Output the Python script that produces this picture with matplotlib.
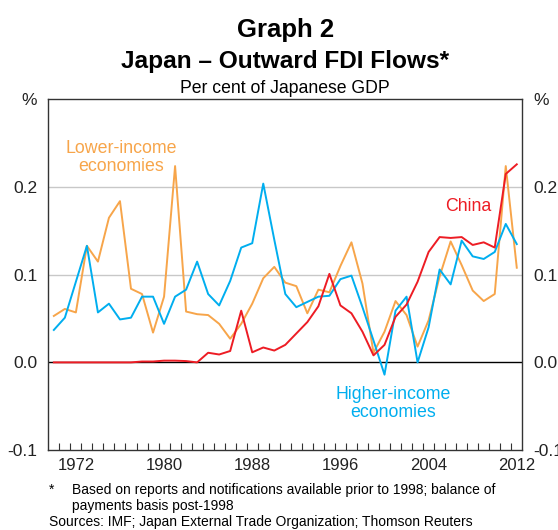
import numpy as np
import matplotlib
matplotlib.use('Agg')
import matplotlib.pyplot as plt
from matplotlib.ticker import FixedLocator

plt.rcParams['font.family'] = ['Liberation Sans', 'DejaVu Sans']

years = np.arange(1970, 2013)

# per cent of Japanese GDP
lower_income = [0.053, 0.061, 0.057, 0.133, 0.115, 0.165, 0.184, 0.084, 0.078, 0.034,
                0.075, 0.224, 0.058, 0.055, 0.054, 0.044, 0.027, 0.044, 0.067, 0.096,
                0.109, 0.091, 0.087, 0.056, 0.083, 0.080, 0.110, 0.137, 0.090, 0.011,
                0.035, 0.070, 0.054, 0.018, 0.048, 0.098, 0.138, 0.111, 0.082, 0.070,
                0.078, 0.224, 0.108]
higher_income = [0.037, 0.051, 0.092, 0.133, 0.057, 0.067, 0.049, 0.051, 0.075, 0.075,
                 0.044, 0.075, 0.083, 0.115, 0.078, 0.065, 0.093, 0.131, 0.136, 0.204,
                 0.140, 0.078, 0.063, 0.069, 0.075, 0.076, 0.095, 0.099, 0.063, 0.025,
                 -0.014, 0.059, 0.075, 0.000, 0.040, 0.106, 0.089, 0.139, 0.121, 0.118,
                 0.126, 0.158, 0.135]
china = [0.0, 0.0, 0.0, 0.0, 0.0, 0.0, 0.0, 0.0, 0.001, 0.001,
         0.002, 0.002, 0.0015, 0.0, 0.011, 0.009, 0.013, 0.059, 0.0115, 0.017,
         0.0135, 0.020, 0.033, 0.046, 0.064, 0.101, 0.065, 0.056, 0.035, 0.008,
         0.020, 0.052, 0.066, 0.092, 0.126, 0.143, 0.142, 0.143, 0.134, 0.137,
         0.131, 0.215, 0.226]

y_ticks = [-0.1, 0.0, 0.1, 0.2, 0.3]
y_labels = ['-0.1', '0.0', '0.1', '0.2', '%']
x_label_years = [1972, 1980, 1988, 1996, 2004, 2012]

ORANGE = '#F7A54A'
BLUE = '#00AEEF'
RED = '#ED1C24'

fig = plt.figure(figsize=(5.58, 5.30), dpi=100)
ax = fig.add_axes([0.0866, 0.1509, 0.8494, 0.6614])

x = years + 0.5
ax.plot(x, lower_income, color=ORANGE, lw=1.4, zorder=3)
ax.plot(x, higher_income, color=BLUE, lw=1.4, zorder=4)
ax.plot(x, china, color=RED, lw=1.4, zorder=5)

ax.set_xlim(1970, 2013)
ax.set_ylim(-0.1, 0.3)

for g in (0.1, 0.2):
    ax.axhline(g, color='#C8C8C8', lw=1.0, zorder=1)
ax.axhline(0, color='black', lw=1.0, zorder=2)

ax.yaxis.set_major_locator(FixedLocator(y_ticks))
ax.set_yticklabels(y_labels)
ax.tick_params(axis='y', left=False, right=False, labelleft=True, labelright=True,
               labelsize=12.5, pad=4.5, colors='#222222')

ax.xaxis.set_major_locator(FixedLocator([yr + 0.5 for yr in x_label_years]))
ax.set_xticklabels([str(yr) for yr in x_label_years])
ax.xaxis.set_minor_locator(FixedLocator(np.arange(1971, 2013)))
ax.tick_params(axis='x', which='major', length=0, labelsize=12, pad=6, colors='#222222')
ax.tick_params(axis='x', which='minor', direction='in', length=5, width=0.8, color='#333333')

for s in ax.spines.values():
    s.set_color('#333333')
    s.set_linewidth(1.0)

ax.text(1976.6, 0.234, 'Lower-income\neconomies', color=ORANGE, fontsize=12.8,
        ha='center', va='center', linespacing=1.1)
ax.text(2008.1, 0.178, 'China', color=RED, fontsize=12.8, ha='center', va='center')
ax.text(2001.3, -0.047, 'Higher-income\neconomies', color=BLUE, fontsize=12.8,
        ha='center', va='center', linespacing=1.1)

cx = 0.511
fig.text(cx, 0.931, 'Graph 2', ha='center', va='baseline', fontsize=18.5, fontweight='bold')
fig.text(cx, 0.872, 'Japan \u2013 Outward FDI Flows*', ha='center', va='baseline',
         fontsize=17.6, fontweight='bold')
fig.text(cx, 0.8245, 'Per cent of Japanese GDP', ha='center', va='baseline', fontsize=12.7)

fig.text(0.088, 0.075, '*', ha='left', va='center', fontsize=10)
fig.text(0.129, 0.075, 'Based on reports and notifications available prior to 1998; balance of',
         ha='left', va='center', fontsize=10)
fig.text(0.129, 0.045, 'payments basis post-1998', ha='left', va='center', fontsize=10)
fig.text(0.088, 0.016, 'Sources: IMF; Japan External Trade Organization; Thomson Reuters',
         ha='left', va='center', fontsize=10)

fig.savefig('out.png', dpi=100)
